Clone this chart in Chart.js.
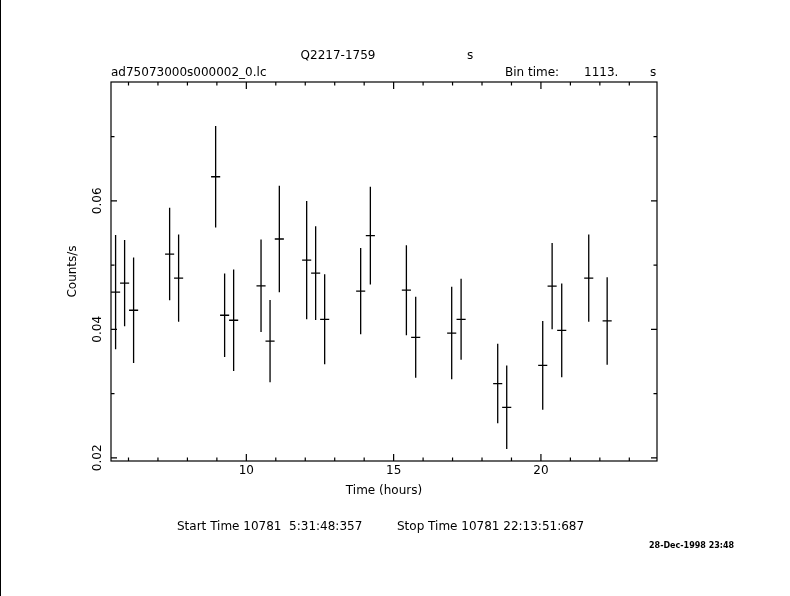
<!DOCTYPE html>
<html>
<head>
<meta charset="utf-8">
<script src="https://cdn.jsdelivr.net/npm/chart.js@4.4.0/dist/chart.umd.min.js"></script>
<style>
html,body{margin:0;padding:0;background:#fff;}
#wrap{position:relative;width:790px;height:596px;}
canvas{display:block;}
</style>
</head>
<body>
<div id="wrap"><canvas id="c" width="790" height="596"></canvas></div>
<script>
// Light curve data (hours, counts/s, 1-sigma error)
const timeHours = [5.562, 5.868, 6.173, 7.396, 7.701, 8.958, 9.263, 9.569, 10.499, 10.805, 11.12,
  12.048, 12.353, 12.659, 13.881, 14.21, 15.433, 15.749, 16.971, 17.29, 18.533, 18.839,
  20.061, 20.38, 20.706, 21.623, 22.248];
const countRate = [0.04578, 0.04719, 0.04297, 0.05172, 0.04797, 0.06375, 0.04219, 0.04141, 0.04677, 0.03817, 0.05406,
  0.05078, 0.04875, 0.04156, 0.04594, 0.05458, 0.04609, 0.03875, 0.03942, 0.04156, 0.03156, 0.02786,
  0.03438, 0.04672, 0.03984, 0.04797, 0.0413];
const rateError = [0.0089, 0.0067, 0.0082, 0.0072, 0.0068, 0.0079, 0.0065, 0.0079, 0.0072, 0.0064, 0.0083,
  0.0092, 0.0073, 0.0070, 0.0067, 0.0076, 0.0070, 0.0063, 0.0072, 0.0063, 0.0062, 0.0065,
  0.0069, 0.0067, 0.0073, 0.0068, 0.0068];
const halfBinHours = 0.1546; // 1113 s / 2
const xMajorLabels = [10, 15, 20];
const yMajorLabels = ['0.02', '0.04', '0.06'];

const FONT = '"DejaVu Sans", sans-serif';

const points = timeHours.map((t, i) => ({x: t, y: countRate[i], e: rateError[i]}));

const pgplot = {
  id: 'pgplot',
  afterDatasetsDraw(chart) {
    const ctx = chart.ctx;
    const xs = chart.scales.x, ys = chart.scales.y;
    const a = chart.chartArea;
    ctx.save();
    ctx.strokeStyle = '#000';
    ctx.lineWidth = 1.3;
    // error crosses
    chart.data.datasets[0].data.forEach((p) => {
      const px = xs.getPixelForValue(p.x);
      const py = ys.getPixelForValue(p.y);
      const x1 = xs.getPixelForValue(p.x - halfBinHours);
      const x2 = xs.getPixelForValue(p.x + halfBinHours);
      const y1 = ys.getPixelForValue(p.y - p.e);
      const y2 = ys.getPixelForValue(p.y + p.e);
      ctx.beginPath();
      ctx.moveTo(x1, py); ctx.lineTo(x2, py);
      ctx.moveTo(px, y1); ctx.lineTo(px, y2);
      ctx.stroke();
    });
    // frame
    ctx.lineWidth = 1.2;
    ctx.strokeRect(a.left, a.top, a.right - a.left, a.bottom - a.top);
    // x ticks (inside, top and bottom)
    ctx.beginPath();
    for (let h = Math.ceil(xs.min); h <= Math.floor(xs.max); h++) {
      const px = xs.getPixelForValue(h);
      const len = (h % 5 === 0) ? 7 : 3.5;
      ctx.moveTo(px, a.bottom); ctx.lineTo(px, a.bottom - len);
      ctx.moveTo(px, a.top); ctx.lineTo(px, a.top + len);
    }
    // y ticks
    for (let k = 2; k <= 7; k++) {
      const v = k / 100;
      if (v < ys.min || v > ys.max) continue;
      const py = ys.getPixelForValue(v);
      const len = (k % 2 === 0) ? 6 : 3.5;
      ctx.moveTo(a.left, py); ctx.lineTo(a.left + len, py);
      ctx.moveTo(a.right, py); ctx.lineTo(a.right - len, py);
    }
    ctx.stroke();
    // rotated y tick labels
    ctx.fillStyle = '#000';
    ctx.font = '12px ' + FONT;
    ctx.textAlign = 'center';
    ctx.textBaseline = 'middle';
    yMajorLabels.forEach(lbl => {
      const py = ys.getPixelForValue(parseFloat(lbl));
      ctx.save();
      ctx.translate(98, py);
      ctx.rotate(-Math.PI / 2);
      ctx.fillText(lbl, 0, 0);
      ctx.restore();
    });
    // header texts
    ctx.textBaseline = 'alphabetic';
    ctx.textAlign = 'center';
    ctx.fillText('Q2217-1759', 338, 59);
    ctx.textAlign = 'left';
    ctx.fillText('s', 467, 59);
    ctx.fillText('ad75073000s000002_0.lc', 111, 76);
    ctx.fillText('Bin time:', 505, 76);
    ctx.fillText('1113.', 584, 76);
    ctx.fillText('s', 650, 76);
    // footer texts
    ctx.fillText('Start Time 10781  5:31:48:357', 177, 530);
    ctx.fillText('Stop Time 10781 22:13:51:687', 397, 530);
    ctx.font = 'bold 8px ' + FONT;
    ctx.fillText('28-Dec-1998 23:48', 649, 548);
    // left page edge
    ctx.lineWidth = 1;
    ctx.beginPath();
    ctx.moveTo(0.5, 0); ctx.lineTo(0.5, 596);
    ctx.stroke();
    ctx.restore();
  }
};

new Chart(document.getElementById('c'), {
  type: 'scatter',
  data: {
    datasets: [{
      label: 'ad75073000s000002_0.lc',
      data: points,
      pointRadius: 0,
      pointHoverRadius: 0,
      showLine: false
    }]
  },
  options: {
    responsive: false,
    animation: false,
    devicePixelRatio: 1,
    layout: {padding: {left: 0, top: 82, right: 133, bottom: 98}},
    plugins: {legend: {display: false}, tooltip: {enabled: false}},
    scales: {
      x: {
        type: 'linear',
        position: 'bottom',
        min: 5.406,
        max: 23.94,
        grid: {display: false, drawTicks: false},
        border: {display: false},
        ticks: {
          stepSize: 1,
          autoSkip: false,
          maxRotation: 0,
          padding: 3,
          color: '#000',
          font: {family: FONT, size: 12},
          callback: (v) => xMajorLabels.includes(Math.round(v * 1000) / 1000) ? String(v) : ''
        },
        title: {display: true, text: 'Time (hours)', color: '#000', font: {family: FONT, size: 12}, padding: 0},
        afterFit: (s) => { s.height = 37; }
      },
      y: {
        type: 'linear',
        position: 'left',
        min: 0.0195,
        max: 0.0785,
        grid: {display: false, drawTicks: false},
        border: {display: false},
        ticks: {display: false, stepSize: 0.01},
        title: {display: true, text: 'Counts/s', color: '#000', font: {family: FONT, size: 12}, padding: {top: 66, bottom: 0}},
        afterFit: (s) => { s.width = 111; }
      }
    }
  },
  plugins: [pgplot]
});
</script>
</body>
</html>
